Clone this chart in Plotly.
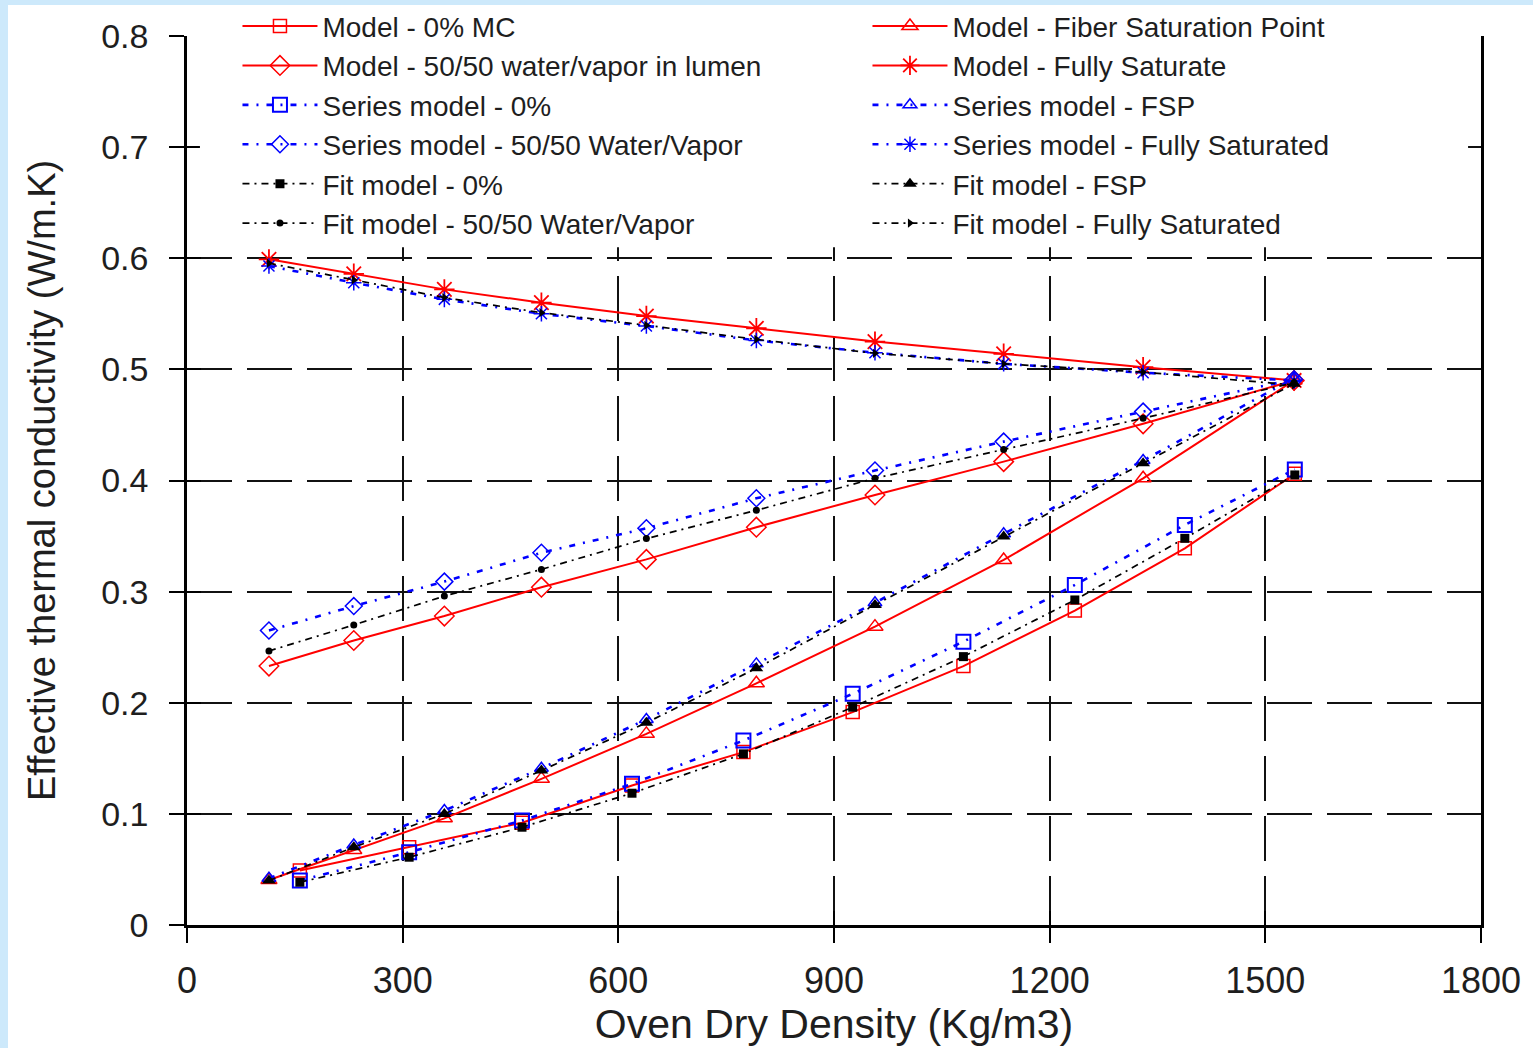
import plotly.graph_objects as go

# Oven dry density (kg/m3) at which each curve was evaluated
density_dry = [157, 309, 466, 619, 774, 926, 1080, 1235, 1388, 1541]
density_wet = [114, 232, 358, 493, 639, 792, 957, 1136, 1330, 1540]

# Effective thermal conductivity (W/m.K)
model_0 = [0.049, 0.070, 0.092, 0.1255, 0.1556, 0.1916, 0.233, 0.283, 0.339, 0.406]
model_fsp = [0.0405, 0.0675, 0.096, 0.1315, 0.172, 0.2175, 0.2685, 0.3285, 0.402, 0.490]
model_5050 = [0.233, 0.256, 0.278, 0.304, 0.329, 0.358, 0.387, 0.417, 0.451, 0.490]
model_fs = [0.599, 0.586, 0.572, 0.560, 0.548, 0.537, 0.525, 0.514, 0.502, 0.490]

series_0 = [0.040, 0.0655, 0.094, 0.127, 0.166, 0.208, 0.255, 0.306, 0.360, 0.410]
series_fsp = [0.042, 0.072, 0.103, 0.141, 0.185, 0.235, 0.290, 0.352, 0.418, 0.492]
series_5050 = [0.265, 0.287, 0.309, 0.335, 0.357, 0.384, 0.409, 0.435, 0.462, 0.491]
series_fs = [0.593, 0.578, 0.563, 0.550, 0.539, 0.526, 0.515, 0.505, 0.497, 0.490]

fit_0 = [0.0385, 0.061, 0.088, 0.1186, 0.154, 0.196, 0.2415, 0.2925, 0.348, 0.405]
fit_fsp = [0.040, 0.070, 0.100, 0.139, 0.182, 0.231, 0.288, 0.3495, 0.4155, 0.487]
fit_5050 = [0.2466, 0.270, 0.296, 0.320, 0.3477, 0.3732, 0.402, 0.428, 0.456, 0.488]
fit_fs = [0.5955, 0.5805, 0.5646, 0.551, 0.5397, 0.527, 0.5145, 0.505, 0.4975, 0.486]

x_ticks = [0, 300, 600, 900, 1200, 1500, 1800]
y_ticks = [0, 0.1, 0.2, 0.3, 0.4, 0.5, 0.6, 0.7, 0.8]
y_tick_text = ["0", "0.1", "0.2", "0.3", "0.4", "0.5", "0.6", "0.7", "0.8"]

RED = "#ff0000"
BLUE = "#0000ff"
BLACK = "#000000"
FONT = "Liberation Sans, Arial, sans-serif"
TEXT = "#1e1e1e"

red_line = dict(color=RED, width=2)
blue_line = dict(color=BLUE, width=2.6, dash="6px,8px,2px,8px")
black_line = dict(color=BLACK, width=1.7, dash="7px,5px,2px,5px")

# (name, x, y, line, symbol, size, marker line width), ordered row by row for a 2-column legend
curves = [
    ("Model - 0% MC", density_dry, model_0, red_line, "square-open", 13, 1.5),
    ("Model - Fiber Saturation Point", density_wet, model_fsp, red_line, "triangle-up-open", 14, 1.5),
    ("Model - 50/50 water/vapor in lumen", density_wet, model_5050, red_line, "diamond-open", 15, 1.5),
    ("Model - Fully Saturate", density_wet, model_fs, red_line, "asterisk-open", 17, 1.8),
    ("Series model - 0%", density_dry, series_0, blue_line, "square-open", 14, 2),
    ("Series model - FSP", density_wet, series_fsp, blue_line, "triangle-up-open", 12, 1.5),
    ("Series model - 50/50 Water/Vapor", density_wet, series_5050, blue_line, "diamond-open", 13, 1.5),
    ("Series model - Fully Saturated", density_wet, series_fs, blue_line, "asterisk-open", 13, 1.5),
    ("Fit model - 0%", density_dry, fit_0, black_line, "square", 9, 0),
    ("Fit model - FSP", density_wet, fit_fsp, black_line, "triangle-up", 12, 0),
    ("Fit model - 50/50 Water/Vapor", density_wet, fit_5050, black_line, "circle", 7, 0),
    ("Fit model - Fully Saturated", density_wet, fit_fs, black_line, "triangle-right", 8, 0),
]

fig = go.Figure()
for name, xs, ys, line, symbol, size, lw in curves:
    col = line["color"]
    fig.add_trace(go.Scatter(
        x=xs, y=ys, name=name, mode="lines+markers",
        line=line,
        marker=dict(symbol=symbol, size=size, color=col,
                    line=dict(color=col, width=lw)),
    ))

# companion axes carry the inward half of the crossing tick marks
fig.add_trace(go.Scatter(x=[], y=[], xaxis="x2", yaxis="y2", showlegend=False))

grid = dict(showgrid=True, gridcolor="#111111", gridwidth=2.2, griddash="45px,15px")

fig.update_layout(
    width=1533, height=1048,
    paper_bgcolor="white", plot_bgcolor="white",
    margin=dict(l=187, r=52, t=36, b=123, autoexpand=False),
    font=dict(family=FONT, color=TEXT),
    xaxis=dict(
        range=[0, 1800], tickvals=x_ticks, ticktext=[str(v) for v in x_ticks],
        ticks="outside", ticklen=15, tickwidth=1.5, tickcolor="black",
        ticklabelstandoff=7,
        showline=True, linecolor="black", linewidth=2.5, zeroline=False,
        tickfont=dict(size=36, color=TEXT),
        title=dict(text="Oven Dry Density (Kg/m3)", font=dict(size=41, color=TEXT), standoff=4),
        **grid,
    ),
    yaxis=dict(
        range=[0, 0.8], tickvals=y_ticks, ticktext=y_tick_text,
        ticks="outside", ticklen=15, tickwidth=1.5, tickcolor="black",
        ticklabelstandoff=14,
        showline=True, linecolor="black", linewidth=2.5, mirror=True, zeroline=False,
        tickfont=dict(size=34, color=TEXT),
        title=dict(text="Effective thermal conductivity (W/m.K)", font=dict(size=38, color=TEXT), standoff=34),
        **grid,
    ),
    xaxis2=dict(range=[0, 1800], tickvals=x_ticks, overlaying="x", ticks="inside", ticklen=14,
                tickwidth=1.5, tickcolor="black", showticklabels=False, showgrid=False,
                zeroline=False, showline=False),
    yaxis2=dict(range=[0, 0.8], tickvals=y_ticks, overlaying="y", ticks="inside", ticklen=14,
                tickwidth=1.5, tickcolor="black", showticklabels=False, showgrid=False,
                zeroline=False, showline=False),
    legend=dict(
        orientation="h", x=0.039, y=1.039, xanchor="left", yanchor="top",
        bgcolor="rgba(0,0,0,0)", borderwidth=0,
        entrywidth=540, entrywidthmode="pixels", itemwidth=75,
        font=dict(size=28, color=TEXT), tracegroupgap=0,
    ),
    shapes=[
        # white panel behind the legend, hiding the upper grid
        dict(type="rect", xref="paper", yref="y", x0=0.01, x1=0.99, y0=0.61, y1=0.8,
             fillcolor="white", line=dict(width=0), layer="above"),
        # light blue frame on the left and top edges
        dict(type="rect", xref="paper", yref="paper", x0=-0.145, x1=(8 - 187) / 1294,
             y0=-0.14, y1=1.045, fillcolor="#cde9fb", line=dict(width=0), layer="above"),
        dict(type="rect", xref="paper", yref="paper", x0=-0.145, x1=1.045,
             y0=(925 - 5) / 889, y1=1.045, fillcolor="#cde9fb", line=dict(width=0), layer="above"),
    ],
)

fig.write_html("out.html")
